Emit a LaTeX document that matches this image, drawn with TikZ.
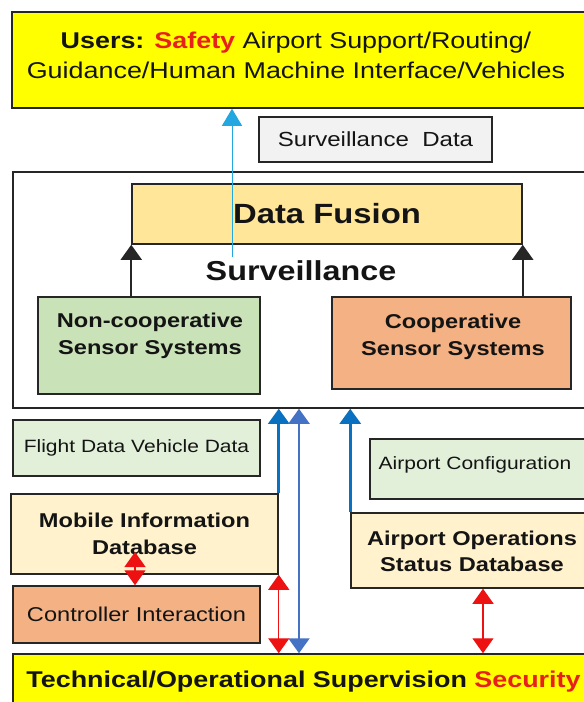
\documentclass[tikz,border=0pt]{standalone}
\usepackage{fontspec}
\setmainfont{Liberation Sans}[FakeStretch=1.18]
\usetikzlibrary{arrows.meta}
\definecolor{edge}{HTML}{262626}
\definecolor{ink}{HTML}{141414}
\definecolor{usery}{HTML}{FFFF00}
\definecolor{tag}{HTML}{F2F2F2}
\definecolor{fusion}{HTML}{FFE699}
\definecolor{sensorg}{HTML}{C9E2B8}
\definecolor{sensoro}{HTML}{F4B183}
\definecolor{paleg}{HTML}{E2F0D9}
\definecolor{cream}{HTML}{FFF2CC}
\definecolor{alert}{HTML}{E8201C}
\definecolor{feedcyan}{HTML}{22A7E0}
\definecolor{linkblue}{HTML}{0A70C0}
\definecolor{duplexblue}{HTML}{4472C4}
\definecolor{linkred}{HTML}{EE1111}

\begin{document}
\begin{tikzpicture}[
    x=0.5pt, y=-0.5pt,
    every node/.style={text=ink},
    box/.style={draw=edge, line width=0.75pt, inner sep=0pt, align=center},
    txt/.style={align=center, inner sep=0pt},
    up/.style={-{Triangle[length=7.5pt, width=10.5pt]}},
    both/.style={{Triangle[length=7.5pt, width=10.5pt]}-{Triangle[length=7.5pt, width=10.5pt]}},
    bluelink/.style={up, draw=linkblue, line width=1.3pt},
    redlink/.style={both, draw=linkred, line width=0.6pt},
]
\useasboundingbox (0,0) rectangle (584,702);
\clip (0,0) rectangle (584,702);

% ---------------------------------------------------------- users
\node[box, fill=usery, minimum width=304pt, minimum height=48pt] (users) at (316,60) {};
\node[txt, font=\fontsize{11.4}{15}\selectfont] (userstxt) at (296,55)
    {\textbf{Users: \textcolor{alert}{Safety}} Airport Support/Routing/\\
     Guidance/Human Machine Interface/Vehicles};

\node[box, fill=tag, minimum width=116.5pt, minimum height=22.5pt,
      font=\fontsize{10.2}{12}\selectfont] (survdata) at (375.5,139.5)
    {Surveillance\ \ Data};

% ---------------------------------------------------------- surveillance
\node[box, minimum width=303.5pt, minimum height=118pt] (survbox) at (316.5,290) {};
\node[box, fill=fusion, minimum width=195pt, minimum height=30pt,
      font=\bfseries\fontsize{13.9}{16}\selectfont] (fusion) at (327,214) {Data Fusion};
\node[txt, font=\bfseries\fontsize{13.7}{16}\selectfont] (survlabel) at (301,271) {Surveillance};

\node[box, fill=sensorg, minimum width=111pt, minimum height=48.5pt] (noncoop) at (149,345.5) {};
\node[txt, font=\bfseries\fontsize{10}{13.5}\selectfont] (noncooptxt) at (150,336)
    {Non-cooperative\\Sensor Systems};
\node[box, fill=sensoro, minimum width=119.5pt, minimum height=46pt] (coop) at (451.5,343) {};
\node[txt, font=\bfseries\fontsize{10}{13.5}\selectfont] (cooptxt) at (453,336.5)
    {Cooperative\\Sensor Systems};

% ---------------------------------------------------------- data sources
\node[box, fill=paleg, minimum width=123.5pt, minimum height=28pt,
      font=\fontsize{8.9}{11}\selectfont] (flight) at (136.5,448) {Flight Data Vehicle Data};
\node[box, fill=cream, minimum width=133.5pt, minimum height=40pt,
      font=\bfseries\fontsize{10}{13.5}\selectfont] (mobile) at (144.5,534)
    {Mobile Information\\Database};
\node[box, fill=sensoro, minimum width=123.5pt, minimum height=28.5pt,
      font=\fontsize{10}{12}\selectfont] (controller) at (136.5,614.5) {Controller Interaction};

\node[box, fill=paleg, minimum width=125pt, minimum height=30pt] (config) at (495,469) {};
\node[txt, font=\fontsize{8.9}{11}\selectfont] (configtxt) at (475,465) {Airport Configuration};
\node[box, fill=cream, minimum width=132pt, minimum height=37.5pt] (ops) at (483,550.5) {};
\node[txt, font=\bfseries\fontsize{10}{13}\selectfont] (opstxt) at (472,551)
    {Airport Operations\\Status Database};

% ---------------------------------------------------------- supervision
\node[box, fill=usery, minimum width=303.5pt, minimum height=38pt] (supervision) at (316.5,692) {};
\node[txt, font=\bfseries\fontsize{11.4}{14}\selectfont] (supervisiontxt) at (303.5,682)
    {Technical/Operational Supervision \textcolor{alert}{Security}};

% ---------------------------------------------------------- links
\coordinate (feed) at (232,257);
\draw[draw=feedcyan, line width=0.5pt, -{Triangle[length=8.5pt, width=10pt]}]
    (feed) -- (feed |- users.south);

\draw[up, draw=edge, line width=0.8pt] (noncoop.north -| fusion.south west) -- (fusion.south west);
\draw[up, draw=edge, line width=0.8pt] (coop.north -| fusion.south east) -- (fusion.south east);

\draw[bluelink] (mobile.north east) -- (mobile.north east |- survbox.south);
\draw[bluelink] (ops.north west) -- (ops.north west |- survbox.south);
\coordinate (duplex) at (299,408);
\draw[both, draw=duplexblue, line width=1.1pt] (duplex |- supervision.north) -- (duplex |- survbox.south);

\coordinate (mobilelink) at (135,552);
\draw[redlink] (mobilelink |- controller.north) -- (mobilelink);
\draw[redlink] (mobile.south east) -- (mobile.south east |- supervision.north);
\draw[redlink] (ops.south) -- (ops.south |- supervision.north);

\end{tikzpicture}
\end{document}
